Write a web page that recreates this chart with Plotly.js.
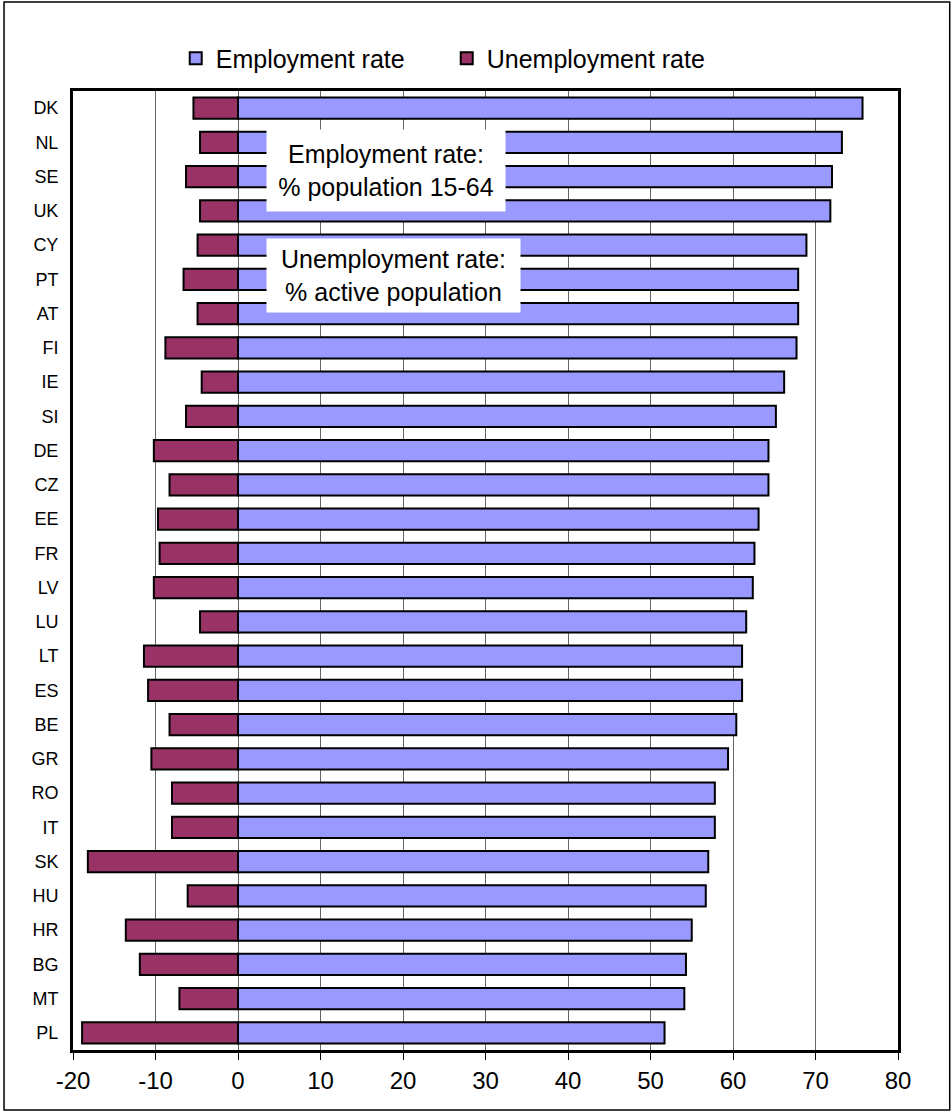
<!DOCTYPE html>
<html>
<head>
<meta charset="utf-8">
<script src="https://cdn.plot.ly/plotly-3.0.1.min.js"></script>
<style>html,body{margin:0;padding:0;background:#fff;}#chart{width:952px;height:1112px;}</style>
</head>
<body>
<div id="chart"></div>
<script>
var countries = ["DK","NL","SE","UK","CY","PT","AT","FI","IE","SI","DE","CZ","EE","FR","LV","LU","LT","ES","BE","GR","RO","IT","SK","HU","HR","BG","MT","PL"];
var employmentRate = [75.7,73.2,72.0,71.8,68.9,67.9,67.9,67.7,66.2,65.2,64.3,64.3,63.1,62.6,62.4,61.6,61.1,61.1,60.4,59.4,57.8,57.8,57.0,56.7,55.0,54.3,54.1,51.7];
var unemploymentRate = [-5.4,-4.6,-6.3,-4.6,-4.9,-6.6,-4.9,-8.8,-4.4,-6.3,-10.2,-8.3,-9.7,-9.5,-10.2,-4.6,-11.4,-10.9,-8.3,-10.5,-8.0,-8.0,-18.2,-6.1,-13.6,-11.9,-7.1,-18.9];
var xTicks = [-20,-10,0,10,20,30,40,50,60,70,80];

var FONT = "Liberation Sans, Arial, sans-serif";

var traces = [
  {type:"bar", orientation:"h", name:"Employment rate", y:countries, x:employmentRate,
   width:0.62, marker:{color:"#9999FF", line:{color:"#000", width:2}}, hoverinfo:"x+y"},
  {type:"bar", orientation:"h", name:"Unemployment rate", y:countries, x:unemploymentRate,
   width:0.62, marker:{color:"#993366", line:{color:"#000", width:2}}, hoverinfo:"x+y"}
];

var layout = {
  width:952, height:1112,
  margin:{l:73, r:54, t:91, b:62},
  paper_bgcolor:"#fff", plot_bgcolor:"#fff",
  barmode:"relative",
  font:{family:FONT, color:"#000"},
  showlegend:true,
  legend:{orientation:"h", x:0.453, xanchor:"center", y:1.034, yanchor:"middle",
          font:{size:25, family:FONT, color:"#000"}, traceorder:"normal", itemwidth:30,
          entrywidth:226, entrywidthmode:"pixels"},
  xaxis:{range:[-20,80], tickvals:xTicks, ticktext:xTicks.map(String),
         showgrid:true, gridcolor:"#666", gridwidth:1,
         zeroline:true, zerolinecolor:"#666", zerolinewidth:1,
         ticks:"outside", ticklen:7, tickwidth:1, tickcolor:"#000",
         tickfont:{size:24, family:FONT, color:"#000"},
         showline:true, linecolor:"#000", linewidth:3, mirror:true, fixedrange:true},
  yaxis:{autorange:"reversed", type:"category", showgrid:false, ticks:"",
         tickfont:{size:18, family:FONT, color:"#000"}, ticklabelstandoff:8,
         showline:true, linecolor:"#000", linewidth:3, mirror:true, fixedrange:true},
  annotations:[
    {xref:"paper", yref:"paper", x:0.379, y:0.9176, xanchor:"center", yanchor:"middle",
     text:"Employment rate:<br>% population 15-64", showarrow:false, bgcolor:"#fff",
     width:238, height:81, borderpad:0, font:{size:25, family:FONT, color:"#000"}},
    {xref:"paper", yref:"paper", x:0.3885, y:0.8076, xanchor:"center", yanchor:"middle",
     text:"Unemployment rate:<br>% active population", showarrow:false, bgcolor:"#fff",
     width:253, height:73, borderpad:0, font:{size:25, family:FONT, color:"#000"}}
  ],
  shapes:[
    {type:"rect", xref:"paper", yref:"paper", x0:-0.0836, x1:1.0627, y0:-0.0626, y1:1.0928,
     line:{color:"#000", width:1.5}, fillcolor:"rgba(0,0,0,0)", layer:"below"}
  ]
};

Plotly.newPlot("chart", traces, layout, {displayModeBar:false, staticPlot:true});
</script>
</body>
</html>
